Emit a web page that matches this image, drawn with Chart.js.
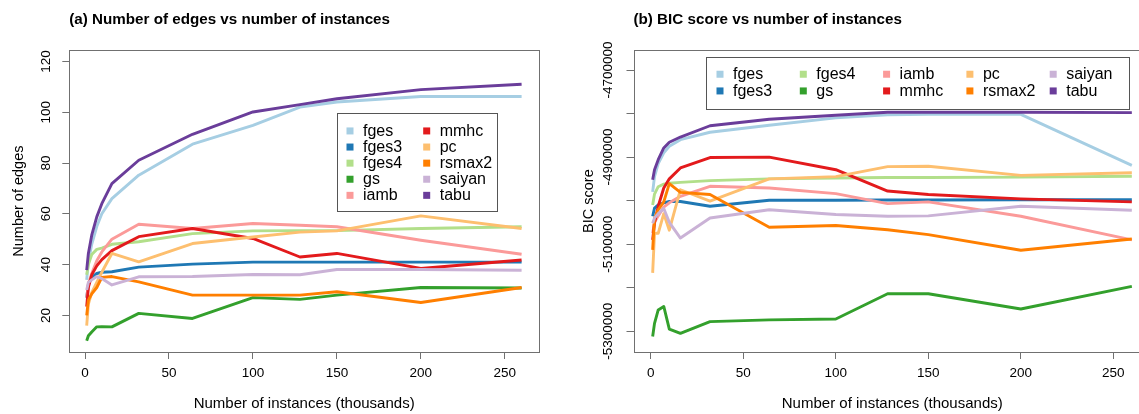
<!DOCTYPE html>
<html><head><meta charset="utf-8">
<script src="https://cdn.jsdelivr.net/npm/chart.js@4.4.1/dist/chart.umd.min.js"></script>
<style>
html,body{margin:0;padding:0;background:#fff;overflow:hidden;width:1139px;height:414px;position:relative;}
#c1{position:absolute;left:0;top:0;}
#c2{position:absolute;left:570px;top:0;}
</style></head><body>
<canvas id="c1" width="570" height="414"></canvas>
<canvas id="c2" width="600" height="414"></canvas>
<script>
// ---------- data ----------
const instances = [1, 2, 4, 7, 10, 16, 32, 64, 100, 128, 150, 200, 260];
const algorithms = ['fges','fges3','fges4','gs','iamb','mmhc','pc','rsmax2','saiyan','tabu'];
const colors = ['#A6CEE3','#1F78B4','#B2DF8A','#33A02C','#FB9A99','#E31A1C','#FDBF6F','#FF7F00','#CAB2D6','#6A3D9A'];

// (a) number of edges
const edgesFges   = [34, 41, 48, 55, 60, 66, 75.2, 87.4, 94.8, 102, 104, 106.2, 106.2];
const edgesFges3  = [27, 32, 35, 36.5, 37, 37.2, 39, 40.2, 41, 41, 41, 41, 41];
const edgesFges4  = [36, 40, 44, 46, 46.5, 48, 49, 52.2, 53.3, 53.4, 53.4, 54.2, 54.9];
const edgesGs     = [10, 12, 13.5, 15.5, 15.6, 15.5, 20.8, 18.8, 27, 26.3, 28, 31, 30.8];
const edgesIamb   = [27, 32.5, 36.5, 41.5, 45, 50, 55.9, 54.2, 56.2, 55.5, 54.9, 49.6, 44.1];
const edgesMmhc   = [23.5, 31, 36, 39.5, 42, 45.5, 51, 54.2, 50.3, 43, 44.4, 38.5, 41.8];
const edgesPc     = [16, 24.5, 29, 33, 37, 44.4, 41.1, 48.3, 50.9, 52.8, 53.3, 59.2, 54.2];
const edgesRsmax2 = [20, 26, 28.5, 31, 35, 35.3, 33.2, 28, 28, 28, 29.3, 25.1, 31];
const edgesSaiyan = [30, 33, 34, 35.3, 34.5, 32, 35.2, 35.3, 36.1, 36, 38.1, 38.1, 37.8];
const edgesTabu   = [37.8, 44.4, 51.6, 58.8, 64, 71.9, 81.1, 91.3, 100.1, 103, 105.3, 108.9, 111];

// (b) BIC score
const bicFges   = [-4980000, -4945000, -4915000, -4890000, -4875000, -4860000, -4843000, -4827000, -4810000, -4803000, -4802000, -4802000, -4919000];
const bicFges3  = [-5036000, -5017000, -5010000, -5005000, -5002000, -5002000, -5013000, -4999000, -4999000, -4998500, -4998500, -4998000, -4998000];
const bicFges4  = [-5010000, -4985000, -4968000, -4962000, -4960000, -4958000, -4954000, -4950000, -4948000, -4947000, -4947000, -4946000, -4944000];
const bicGs     = [-5312000, -5282000, -5251000, -5243000, -5295000, -5305000, -5278000, -5274000, -5272000, -5214000, -5214000, -5249000, -5197000];
const bicIamb   = [-5075000, -5050000, -5035000, -5015000, -5005000, -4990000, -4967000, -4971000, -4984000, -5007000, -5003000, -5036000, -5090000];
const bicMmhc   = [-5090000, -5051000, -5013000, -4971000, -4950000, -4925000, -4901000, -4900000, -4929000, -4978000, -4986000, -4996000, -5003000];
const bicPc     = [-5166000, -5075000, -5075000, -5030000, -5068000, -4975000, -5001000, -4950000, -4945000, -4922000, -4921000, -4942000, -4936000];
const bicRsmax2 = [-5113000, -5040000, -5021000, -5003000, -4961000, -4981000, -4986000, -5061000, -5057000, -5067000, -5078000, -5114000, -5088000];
const bicSaiyan = [-5052000, -5040000, -5030000, -5018000, -5050000, -5086000, -5040000, -5021000, -5032000, -5036000, -5035000, -5013000, -5022000];
const bicTabu   = [-4952000, -4929000, -4906000, -4879000, -4866000, -4854000, -4828000, -4813000, -4804000, -4797000, -4797000, -4797000, -4798000];

// tick values / labels
const xTicks = [0, 50, 100, 150, 200, 250];
const edgesTicks = [20, 40, 60, 80, 100, 120];
const edgesTickLabels = ['20', '40', '60', '80', '100', '120'];
const bicTicks = [-5300000, -5200000, -5100000, -5000000, -4900000, -4800000, -4700000];
const bicTickLabels = ['-5300000', '', '-5100000', '', '-4900000', '', '-4700000'];

// ---------- helpers ----------
const FONT = '"Liberation Sans", Arial, sans-serif';
const AXIS = '#707070';

function datasets(series) {
  return algorithms.map((name, i) => ({
    label: name,
    data: instances.map((x, k) => ({x: x, y: series[i][k]})),
    borderColor: colors[i], backgroundColor: colors[i],
    borderWidth: 2.9, pointRadius: 0, pointHoverRadius: 0, fill: false, tension: 0,
    borderJoinStyle: 'round',
    order: algorithms.length - i
  }));
}

function rPlugin(o) {
  return {
    id: 'rstyle',
    afterDraw(chart) {
      const ctx = chart.ctx, a = chart.chartArea, ys = chart.scales.y;
      ctx.save();
      // plot box
      ctx.strokeStyle = AXIS; ctx.lineWidth = 1;
      ctx.strokeRect(Math.round(a.left) + 0.5, Math.round(a.top) + 0.5,
                     Math.round(a.right - a.left), Math.round(a.bottom - a.top));
      // rotated y tick labels (R style)
      ctx.fillStyle = '#000'; ctx.font = o.tickFont;
      ctx.textAlign = 'center'; ctx.textBaseline = 'middle';
      o.yTicks.forEach((v, i) => {
        const lab = o.yLabels[i];
        if (!lab) return;
        const y = ys.getPixelForValue(v);
        ctx.save(); ctx.translate(a.left - o.labelOffset, y); ctx.rotate(-Math.PI / 2);
        ctx.fillText(lab, 0, 0); ctx.restore();
      });
      // legend
      const L = o.legend;
      const bx = a.left + L.x, by = a.top + L.y;
      ctx.fillStyle = '#fff';
      ctx.fillRect(bx, by, L.w, L.h);
      ctx.strokeStyle = '#555'; ctx.lineWidth = 1;
      ctx.strokeRect(Math.round(bx) + 0.5, Math.round(by) + 0.5, Math.round(L.w), Math.round(L.h));
      ctx.font = L.font; ctx.textAlign = 'left'; ctx.textBaseline = 'middle';
      algorithms.forEach((name, i) => {
        const col = Math.floor(i / L.rows), row = i % L.rows;
        const cx = bx + L.firstX + col * L.colW;
        const cy = by + L.firstY + row * L.rowH;
        ctx.fillStyle = colors[i];
        ctx.fillRect(cx - 3.5, cy - 3.5, 7, 7);
        ctx.fillStyle = '#000';
        ctx.fillText(name, cx + 13, cy + 0.5);
      });
      ctx.restore();
    }
  };
}

function makeChart(id, cfg) {
  return new Chart(document.getElementById(id), {
    type: 'line',
    data: {datasets: datasets(cfg.series)},
    options: {
      responsive: false, animation: false, devicePixelRatio: 1,
      events: [],
      layout: {padding: {left: 0, right: cfg.padRight, top: 0, bottom: 0}},
      plugins: {
        legend: {display: false}, tooltip: {enabled: false},
        title: {display: true, text: cfg.title, align: 'start', fullSize: false,
                color: '#000', font: {family: FONT, size: 15.2, weight: 'bold'},
                padding: {top: 11, bottom: 21}}
      },
      scales: {
        x: {
          type: 'linear', min: -9.36, max: 270.36,
          afterBuildTicks: s => { s.ticks = xTicks.map(v => ({value: v})); },
          afterFit: s => { s.height = 62; },
          grid: {drawOnChartArea: false, drawTicks: true, tickLength: 7, color: AXIS},
          border: {display: false},
          ticks: {font: {family: FONT, size: 13.5}, color: '#000', padding: 6, maxRotation: 0, autoSkip: false},
          title: {display: true, text: 'Number of instances (thousands)', color: '#000',
                  font: {family: FONT, size: 15}, padding: {top: 0, bottom: 1}}
        },
        y: {
          type: 'linear', min: cfg.yMin, max: cfg.yMax,
          afterBuildTicks: s => { s.ticks = cfg.yTicks.map(v => ({value: v})); },
          afterFit: s => { s.width = cfg.yWidth; },
          grid: {drawOnChartArea: false, drawTicks: true, tickLength: 7, color: AXIS},
          border: {display: false},
          ticks: {display: false},
          title: {display: true, text: cfg.yTitle, color: '#000',
                  font: {family: FONT, size: 14.5}, padding: {top: 10.5, bottom: 0}}
        }
      }
    },
    plugins: [rPlugin({
      yTicks: cfg.yTicks, yLabels: cfg.yLabels, labelOffset: cfg.labelOffset,
      tickFont: '13.5px ' + FONT, legend: cfg.legend
    })]
  });
}

makeChart('c1', {
  series: [edgesFges, edgesFges3, edgesFges4, edgesGs, edgesIamb, edgesMmhc, edgesPc, edgesRsmax2, edgesSaiyan, edgesTabu],
  title: '(a) Number of edges vs number of instances',
  yTitle: 'Number of edges',
  yMin: 5.6, yMax: 124.4, yTicks: edgesTicks, yLabels: edgesTickLabels,
  yWidth: 69.3, padRight: 31, labelOffset: 22.6,
  legend: {x: 268, y: 62.7, w: 160, h: 98, rows: 5, colW: 76.7, rowH: 16.1, firstX: 12.7, firstY: 18, font: '16px ' + FONT}
});

makeChart('c2', {
  series: [bicFges, bicFges3, bicFges4, bicGs, bicIamb, bicMmhc, bicPc, bicRsmax2, bicSaiyan, bicTabu],
  title: '(b) BIC score vs number of instances',
  yTitle: 'BIC score',
  yMin: -5347700, yMax: -4654600, yTicks: bicTicks, yLabels: bicTickLabels,
  yWidth: 63.5, padRight: 19, labelOffset: 25.2,
  legend: {x: 72.5, y: 6.3, w: 423.3, h: 52, rows: 2, colW: 83.3, rowH: 16.7, firstX: 14, firstY: 17.7, font: '16px ' + FONT}
});
</script>
</body></html>
